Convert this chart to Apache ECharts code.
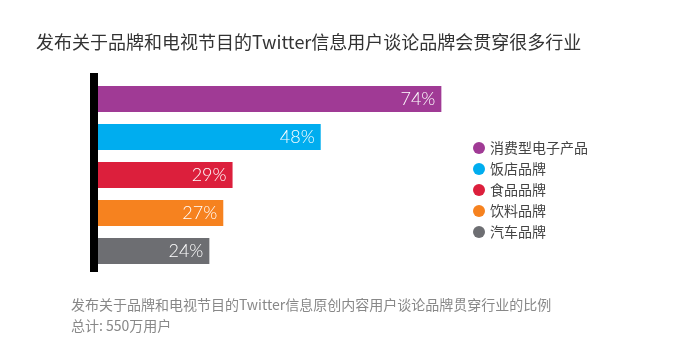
<!DOCTYPE html>
<html>
<head>
<meta charset="utf-8">
<script src="https://cdn.jsdelivr.net/npm/echarts@6/dist/echarts.min.js"></script>
<style>
  html, body { margin: 0; padding: 0; background: #fff; }
  #main { width: 690px; height: 352px; }
</style>
</head>
<body>
<div id="main"></div>
<script>
// 数据
var categories = ['消费型电子产品', '饭店品牌', '食品品牌', '饮料品牌', '汽车品牌'];
var values = [74, 48, 29, 27, 24];
var colors = ['#a03a95', '#00adef', '#dc1f3c', '#f6821f', '#6d6e72'];

var myChart = echarts.init(document.getElementById('main'));
window.addEventListener('resize', function () { myChart.resize(); }, false);

// 每个品类一个系列，这样图例可以显示颜色
var seriesList = categories.map(function (name, i) {
    var data = categories.map(function (c, j) { return j === i ? values[i] : '-'; });
    return {
        name: name,
        type: 'bar',
        stack: 'all',
        barWidth: 26,
        data: data,
        itemStyle: { color: colors[i] },
        label: {
            show: true,
            position: 'insideRight',
            distance: 6,
            formatter: '{c}%',
            color: '#fff',
            fontSize: 18,
            fontWeight: 300,
            fontFamily: 'Lato, "Open Sans", sans-serif'
        }
    };
});

var option = {
    animation: false,
    title: [
        {
            text: '发布关于品牌和电视节目的Twitter信息用户谈论品牌会贯穿很多行业',
            left: 31, top: 28,
            textStyle: { fontSize: 18, fontWeight: 'normal', color: '#333', fontFamily: '"Noto Sans CJK SC", sans-serif' }
        },
        {
            text: '发布关于品牌和电视节目的Twitter信息原创内容用户谈论品牌贯穿行业的比例\n总计: 550万用户',
            left: 66, top: 289,
            textStyle: { fontSize: 14, fontWeight: 'normal', color: '#888', lineHeight: 21, fontFamily: '"Noto Sans CJK SC", sans-serif' }
        }
    ],
    legend: {
        orient: 'vertical',
        left: 473, top: 141,
        padding: 0,
        icon: 'circle',
        itemWidth: 12, itemHeight: 12,
        itemGap: 7,
        data: categories,
        textStyle: { fontSize: 14, color: '#444', fontFamily: '"Noto Sans CJK SC", sans-serif' }
    },
    grid: { left: 98, top: 80, width: 464, height: 190 },
    xAxis: {
        type: 'value', min: 0, max: 100, show: false
    },
    yAxis: {
        type: 'category', inverse: true, data: categories,
        axisLine: { show: false }, axisTick: { show: false }, axisLabel: { show: false }
    },
    graphic: [
        { type: 'rect', shape: { x: 90, y: 73, width: 8, height: 199 }, style: { fill: '#000' } }
    ],
    series: seriesList
};

myChart.setOption(option);
</script>
</body>
</html>
